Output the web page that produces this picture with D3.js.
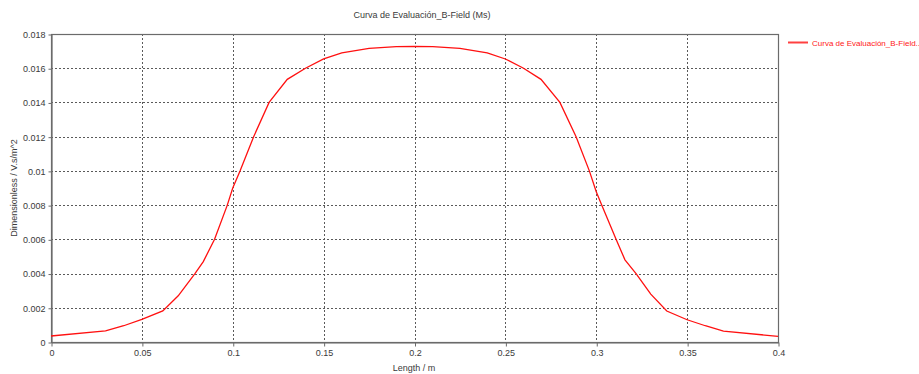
<!DOCTYPE html>
<html>
<head>
<meta charset="utf-8">
<script src="https://cdn.jsdelivr.net/npm/d3@7"></script>
<style>
  html, body { margin: 0; padding: 0; background: #fff; }
  svg { display: block; font-family: "Liberation Sans", Arial, sans-serif; }
</style>
</head>
<body>
<svg id="chart" width="919" height="374"></svg>
<script>
// B-field evaluation curve along the length
const lengthM = [0, 0.03, 0.04, 0.05, 0.0615, 0.07, 0.0792, 0.0838, 0.09, 0.097, 0.1, 0.104, 0.1115, 0.12, 0.13, 0.14, 0.15, 0.16, 0.175, 0.19, 0.2,
                 0.21, 0.225, 0.24, 0.25, 0.26, 0.2696, 0.28, 0.2889, 0.2962, 0.3, 0.303, 0.3109, 0.3158, 0.3219, 0.33, 0.3388, 0.35, 0.36, 0.37, 0.4];
const bField = [0.00035, 0.00065, 0.00095, 0.00132, 0.00182, 0.0027, 0.0040, 0.0047, 0.0060, 0.0080, 0.0090, 0.0100, 0.0120, 0.0140, 0.01535, 0.0160, 0.01655, 0.0169, 0.01716, 0.01726, 0.01728,
                0.01726, 0.01716, 0.0169, 0.01654, 0.0160, 0.01535, 0.0140, 0.0120, 0.0100, 0.00878, 0.0080, 0.0060, 0.0048, 0.0040, 0.0028, 0.00181, 0.0013, 0.00095, 0.00064, 0.00033];
const xTicks = [0, 0.05, 0.1, 0.15, 0.2, 0.25, 0.3, 0.35, 0.4];
const yTicks = [0, 0.002, 0.004, 0.006, 0.008, 0.01, 0.012, 0.014, 0.016, 0.018];
const chartTitle = "Curva de Evaluación_B-Field (Ms)";
const seriesName = "Curva de Evaluación_B-Field..";
const xLabel = "Length / m";
const yLabel = "Dimensionless / V.s/m^2";

const svg = d3.select("#chart");
const plotL = 51, plotR = 778, plotT = 34, plotB = 342;

const x = d3.scaleLinear().domain([0, 0.4]).range([plotL, plotR]);
const y = d3.scaleLinear().domain([0, 0.018]).range([plotB, plotT]);

const axisColor = "#6b6b6b";
const textColor = "#3a3a3a";

// grid
const grid = svg.append("g").attr("stroke", "#5a5a5a").attr("stroke-width", 1).attr("stroke-dasharray", "2,2");
grid.selectAll("line.v").data(xTicks.slice(1, -1)).join("line")
  .attr("x1", d => Math.round(x(d)) + 0.5).attr("x2", d => Math.round(x(d)) + 0.5)
  .attr("y1", plotT).attr("y2", plotB);
grid.selectAll("line.h").data(yTicks.slice(1, -1)).join("line")
  .attr("x1", plotL).attr("x2", plotR)
  .attr("y1", d => Math.round(y(d)) + 0.5).attr("y2", d => Math.round(y(d)) + 0.5);

// frame
svg.append("rect")
  .attr("x", plotL + 0.5).attr("y", plotT + 0.5)
  .attr("width", plotR - plotL).attr("height", plotB - plotT)
  .attr("fill", "none").attr("stroke", axisColor).attr("stroke-width", 1.2);

// axes
const fmt = d => d === 0 ? "0" : String(d);
const xAxis = svg.append("g").attr("transform", `translate(0.5,${plotB + 0.5})`)
  .call(d3.axisBottom(x).tickValues(xTicks).tickFormat(fmt).tickSizeInner(4).tickSizeOuter(0).tickPadding(3));
const yAxis = svg.append("g").attr("transform", `translate(${plotL + 0.5},0.5)`)
  .call(d3.axisLeft(y).tickValues(yTicks).tickFormat(fmt).tickSizeInner(3).tickSizeOuter(0).tickPadding(3));
[xAxis, yAxis].forEach(g => {
  g.select(".domain").attr("stroke", axisColor).attr("stroke-width", 1.2);
  g.selectAll(".tick line").attr("stroke", axisColor);
  g.selectAll(".tick text").attr("fill", textColor).style("font-size", "9px")
    .style("font-family", "'Liberation Sans', Arial, sans-serif");
});

// data line
const line = d3.line().x((d, i) => x(lengthM[i])).y(d => y(d));
svg.append("path")
  .attr("d", line(bField))
  .attr("fill", "none").attr("stroke", "#ff1010").attr("stroke-width", 1.3);

// title and axis labels
svg.append("text").attr("x", 422).attr("y", 18).attr("text-anchor", "middle")
  .attr("fill", textColor).style("font-size", "9px").text(chartTitle);
svg.append("text").attr("x", 414).attr("y", 371).attr("text-anchor", "middle")
  .attr("fill", textColor).style("font-size", "9px").text(xLabel);
svg.append("text").attr("transform", `translate(17,188) rotate(-90)`).attr("text-anchor", "middle")
  .attr("fill", textColor).style("font-size", "9px").text(yLabel);

// legend
svg.append("line").attr("x1", 788).attr("x2", 808).attr("y1", 42.5).attr("y2", 42.5)
  .attr("stroke", "#ff4040").attr("stroke-width", 2);
svg.append("text").attr("x", 812).attr("y", 45.5)
  .attr("fill", "#ff2020").style("font-size", "8px")
  .style("font-family", "'Liberation Sans Narrow', 'Liberation Sans', Arial, sans-serif")
  .text(seriesName);
</script>
</body>
</html>
